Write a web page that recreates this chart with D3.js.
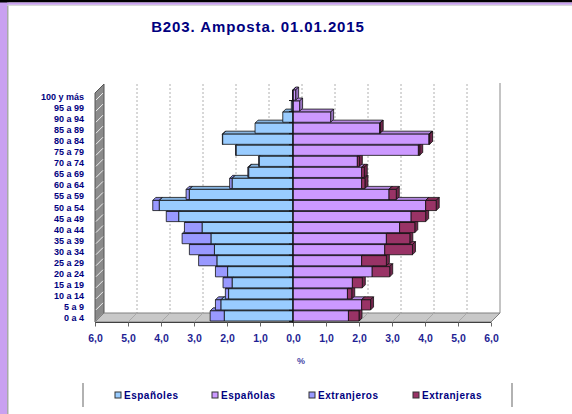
<!DOCTYPE html>
<meta charset="utf-8">
<script src="https://d3js.org/d3.v7.min.js"></script>
<style>
  body { margin: 0; background: #fff; }
  text { font-family: "Liberation Sans", Arial, sans-serif; font-weight: bold; }
</style>
<div id="my_dataviz"></div>
<script>

// Datos: grupos de edad (de abajo arriba) y porcentajes
var grupos = ["0 a 4", "5 a 9", "10 a 14", "15 a 19", "20 a 24", "25 a 29", "30 a 34",
  "35 a 39", "40 a 44", "45 a 49", "50 a 54", "55 a 59", "60 a 64", "65 a 69",
  "70 a 74", "75 a 79", "80 a 84", "85 a 89", "90 a 94", "95 a 99", "100 y más"];
var espanoles   = [2.08, 2.18, 1.95, 1.84, 1.98, 2.30, 2.38, 2.48, 2.75, 3.46, 4.05, 3.14, 1.84, 1.34, 1.02, 1.72, 2.13, 1.15, 0.31, 0.05, 0.01];
var extranjeros = [0.43, 0.17, 0.10, 0.28, 0.37, 0.56, 0.76, 0.88, 0.54, 0.38, 0.20, 0.10, 0.08, 0.03, 0.02, 0.02, 0.01, 0.00, 0.00, 0.00, 0.00];
var espanolas   = [1.68, 2.08, 1.65, 1.80, 2.40, 2.08, 2.78, 2.83, 3.23, 3.58, 4.02, 2.91, 2.08, 2.08, 1.95, 3.80, 4.12, 2.63, 1.14, 0.20, 0.08];
var extranjeras = [0.32, 0.27, 0.13, 0.30, 0.53, 0.75, 0.84, 0.71, 0.46, 0.44, 0.32, 0.22, 0.10, 0.08, 0.06, 0.04, 0.02, 0.01, 0.00, 0.00, 0.00];
var xTicks = [-6, -5, -4, -3, -2, -1, 0, 1, 2, 3, 4, 5, 6];

var series = [
  {name: "Españoles", color: "#99ccff"},
  {name: "Españolas", color: "#cc99ff"},
  {name: "Extranjeros", color: "#9999ff"},
  {name: "Extranjeras", color: "#993366"}
];

var W = 572, H = 414;
var depth = 9;      // profundidad de paredes y suelo
var bd = 3;         // profundidad de las barras
var floorY = 322, topY = 90;

var svg = d3.select("#my_dataviz").append("svg")
  .attr("width", W).attr("height", H);

// Marco de la ventana
svg.append("rect").attr("width", W).attr("height", H).attr("fill", "#fff");
svg.append("rect").attr("x", 0).attr("y", 0).attr("width", 7).attr("height", H).attr("fill", "#c9a0f0");
svg.append("rect").attr("x", 7).attr("y", 0).attr("width", 1.5).attr("height", H).attr("fill", "#a8a8a8");
svg.append("rect").attr("x", 0).attr("y", 0).attr("width", W).attr("height", 2.5).attr("fill", "#000");
svg.append("rect").attr("x", 7).attr("y", 2.5).attr("width", W).attr("height", 2.3).attr("fill", "#c9a0f0");
svg.append("rect").attr("x", 7).attr("y", 4.8).attr("width", W).attr("height", 1).attr("fill", "#d0d0d0");

// Escalas
var x = d3.scaleLinear().domain([-6, 6]).range([95, 491]);
var y = d3.scaleBand()
  .domain(grupos.slice().reverse())
  .range([topY, floorY - 1])
  .paddingInner(0.08)
  .paddingOuter(0);

// Pared izquierda
var xl = x(-6);
svg.append("polygon")
  .attr("points", [[xl, floorY], [xl, topY + 3], [xl + depth, topY + 3 - depth], [xl + depth, floorY - depth]].join(" "))
  .attr("fill", "#8a8a8a").attr("stroke", "#555").attr("stroke-width", 1);
grupos.forEach(function(g, i) {
  var yy = y(g) + y.step();
  svg.append("line")
    .attr("x1", xl + 1).attr("y1", yy - 1)
    .attr("x2", xl + depth - 1).attr("y2", yy - depth + 1)
    .attr("stroke", "#eee").attr("stroke-width", 1);
});

// Pared del fondo: rejilla discontinua
xTicks.slice(1, -1).forEach(function(t) {
  svg.append("line")
    .attr("x1", x(t) + depth).attr("x2", x(t) + depth)
    .attr("y1", topY - depth + 3).attr("y2", floorY - depth)
    .attr("stroke", "#b0b0b0").attr("stroke-dasharray", "2,2");
});
svg.append("line")
  .attr("x1", x(6) + depth).attr("x2", x(6) + depth)
  .attr("y1", topY - depth + 2).attr("y2", floorY - depth)
  .attr("stroke", "#c4c4c4").attr("stroke-width", 2);

// Suelo
svg.append("polygon")
  .attr("points", [[x(-6), floorY], [x(6), floorY], [x(6) + depth, floorY - depth], [x(-6) + depth, floorY - depth]].join(" "))
  .attr("fill", "#c8c8c8").attr("stroke", "#808080").attr("stroke-width", 1);
xTicks.slice(1, -1).forEach(function(t) {
  svg.append("line")
    .attr("x1", x(t)).attr("y1", floorY)
    .attr("x2", x(t) + depth).attr("y2", floorY - depth)
    .attr("stroke", "#a8a8a8");
});
svg.append("line")
  .attr("x1", x(-6)).attr("x2", x(6)).attr("y1", floorY + 0.5).attr("y2", floorY + 0.5)
  .attr("stroke", "#404040").attr("stroke-width", 1.2);

// Eje X
var xAxis = svg.append("g")
  .attr("transform", "translate(0," + (floorY + 0.5) + ")")
  .call(d3.axisBottom(x).tickValues(xTicks).tickSize(4).tickPadding(8)
    .tickFormat(function(d) { return Math.abs(d).toFixed(1).replace(".", ","); }));
xAxis.select(".domain").remove();
xAxis.selectAll(".tick line").attr("stroke", "#666");
xAxis.selectAll("text")
  .style("font-size", "10.5px").attr("fill", "#1f1f94");

svg.append("text")
  .attr("x", 301).attr("y", 364)
  .attr("text-anchor", "middle")
  .style("font-size", "9px").attr("fill", "#4848a8")
  .text("%");

// Barra 3D: cara frontal, superior y lateral
function bar3d(x0, x1, yTop, h, color) {
  var a = Math.min(x0, x1), b = Math.max(x0, x1);
  if (b - a < 0.3) return;
  var c = d3.color(color);
  var g = svg.append("g").attr("stroke", "#111").attr("stroke-width", 0.8).attr("stroke-linejoin", "round");
  g.append("polygon")
    .attr("points", [[a, yTop], [b, yTop], [b + bd, yTop - bd], [a + bd, yTop - bd]].join(" "))
    .attr("fill", c.darker(0.35));
  g.append("polygon")
    .attr("points", [[b, yTop], [b + bd, yTop - bd], [b + bd, yTop + h - bd], [b, yTop + h]].join(" "))
    .attr("fill", c.darker(0.8));
  g.append("rect")
    .attr("x", a).attr("y", yTop).attr("width", b - a).attr("height", h)
    .attr("fill", color);
}

// Dibujar de abajo arriba para que las filas superiores tapen las caras superiores
grupos.forEach(function(g, i) {
  var yy = y(g), h = y.bandwidth();
  // Hombres (izquierda)
  bar3d(x(-espanoles[i]), x(-espanoles[i] - extranjeros[i]), yy, h, series[2].color);
  bar3d(x(0), x(-espanoles[i]), yy, h, series[0].color);
  // Mujeres (derecha)
  bar3d(x(0), x(espanolas[i]), yy, h, series[1].color);
  bar3d(x(espanolas[i]), x(espanolas[i] + extranjeras[i]), yy, h, series[3].color);
});

// Eje central
svg.append("line")
  .attr("x1", x(0)).attr("x2", x(0)).attr("y1", topY).attr("y2", floorY + 1)
  .attr("stroke", "#111").attr("stroke-width", 1.2);
grupos.forEach(function(g) {
  svg.append("line")
    .attr("x1", x(0) - 4).attr("x2", x(0))
    .attr("y1", y(g) + y.step() - 0.5).attr("y2", y(g) + y.step() - 0.5)
    .attr("stroke", "#111");
});

// Etiquetas de edad
svg.selectAll(".ylab")
  .data(grupos)
  .enter().append("text")
  .attr("class", "ylab")
  .attr("x", 84)
  .attr("y", function(d) { return y(d) + y.bandwidth() / 2 + 5; })
  .attr("text-anchor", "end")
  .style("font-size", "9px")
  .attr("fill", "#000080")
  .text(function(d) { return d; });

// Título
svg.append("text")
  .attr("x", 258).attr("y", 32)
  .attr("text-anchor", "middle")
  .style("font-size", "15px").style("letter-spacing", "0.9px")
  .attr("fill", "#000080")
  .text("B203. Amposta. 01.01.2015");

// Leyenda
svg.append("line").attr("x1", 83).attr("x2", 83).attr("y1", 383).attr("y2", 407)
  .attr("stroke", "#999").attr("stroke-width", 1.5);
svg.append("line").attr("x1", 512).attr("x2", 512).attr("y1", 383).attr("y2", 407)
  .attr("stroke", "#999").attr("stroke-width", 1.5);
var legX = [115, 212, 309, 413];
series.forEach(function(s, i) {
  svg.append("rect")
    .attr("x", legX[i]).attr("y", 392).attr("width", 6).attr("height", 6)
    .attr("fill", s.color).attr("stroke", "#333").attr("stroke-width", 1);
  svg.append("text")
    .attr("x", legX[i] + 9).attr("y", 399)
    .style("font-size", "10px").style("letter-spacing", "0.5px")
    .attr("fill", "#000080")
    .text(s.name);
});

</script>
